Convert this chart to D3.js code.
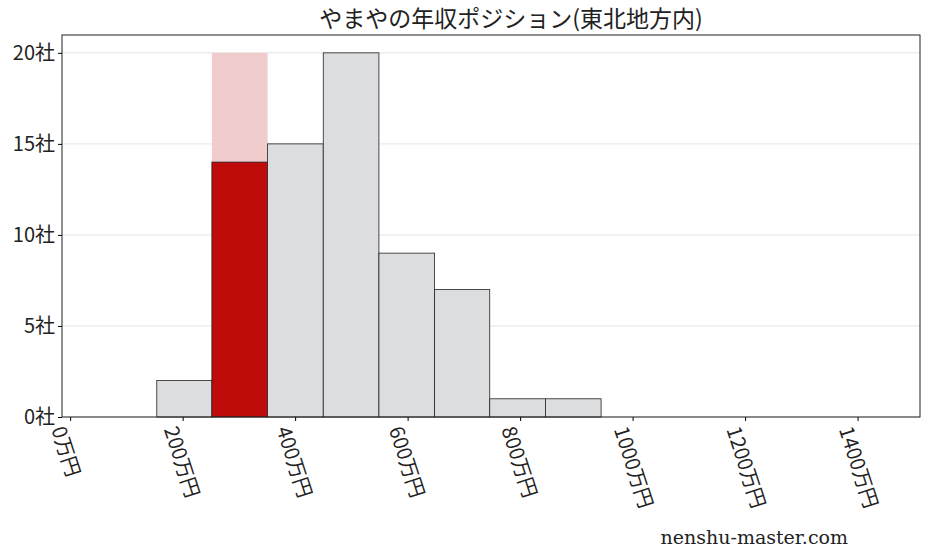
<!DOCTYPE html>
<html><head><meta charset="utf-8">
<script src="https://cdn.jsdelivr.net/npm/d3@7"></script>
<style>body{margin:0;background:#fff}</style>
</head><body><div class="vis"></div>
<script>
// bins (万円) and counts
const binEdges = [154, 252, 351, 450, 549, 648, 746, 845, 944];
const counts = [2, 14, 15, 20, 9, 7, 1, 1];
const highlightIndex = 1;
const highlightMax = 20;
const xTicks = [0, 200, 400, 600, 800, 1000, 1200, 1400];
const yTicks = [0, 5, 10, 15, 20];
const title = "やまやの年収ポジション(東北地方内)";

const font = "'Noto Sans CJK JP', sans-serif";
const margin = {top: 35, right: 8, bottom: 140, left: 62};
const W = 928, H = 557;
const width = W - margin.left - margin.right;
const height = H - margin.top - margin.bottom;

const svg = d3.select(".vis").append("svg").attr("width", W).attr("height", H);
const g = svg.append("g").attr("transform", `translate(${margin.left},${margin.top})`);

const x = d3.scaleLinear().domain([-14.5, 1511]).range([0, width]);
const y = d3.scaleLinear().domain([0, 20.98]).range([height, 0]);

// grid
g.selectAll(".grid").data(yTicks).enter().append("line")
  .attr("x1", 0).attr("x2", width)
  .attr("y1", d => y(d)).attr("y2", d => y(d))
  .attr("stroke", "#ddd").attr("stroke-width", 0.8);

const bins = counts.map((c, i) => ({x0: binEdges[i], x1: binEdges[i + 1], c, i}));

// pink background bar
const hb = bins[highlightIndex];
g.append("rect")
  .attr("x", x(hb.x0)).attr("width", x(hb.x1) - x(hb.x0))
  .attr("y", y(highlightMax)).attr("height", y(0) - y(highlightMax))
  .attr("fill", "#f0cccc");

g.selectAll(".bar").data(bins).enter().append("rect")
  .attr("x", d => x(d.x0)).attr("width", d => x(d.x1) - x(d.x0))
  .attr("y", d => y(d.c)).attr("height", d => y(0) - y(d.c))
  .attr("fill", d => d.i === highlightIndex ? "#c00b0b" : "#dcdddf")
  .attr("stroke", "#222").attr("stroke-width", 0.8);

// frame
g.append("rect").attr("width", width).attr("height", height)
  .attr("fill", "none").attr("stroke", "#222").attr("stroke-width", 1);

// y axis
const ya = g.append("g").call(d3.axisLeft(y).tickValues(yTicks).tickFormat(d => d + "社").tickSize(4));
ya.select(".domain").remove();
ya.selectAll("text").attr("font-family", font).attr("font-size", 20).attr("fill", "#222");

// x axis
const xa = g.append("g").attr("transform", `translate(0,${height})`)
  .call(d3.axisBottom(x).tickValues(xTicks).tickFormat(d => d + "万円").tickSize(4));
xa.select(".domain").remove();
xa.selectAll("text")
  .attr("font-family", font).attr("font-size", 20).attr("fill", "#222")
  .attr("text-anchor", "start").attr("dy", "0.35em")
  .attr("transform", "translate(-6,8) rotate(72)");

svg.append("text").attr("x", margin.left + width / 2 + 20).attr("y", 27)
  .attr("text-anchor", "middle").attr("font-family", font).attr("font-size", 23)
  .attr("fill", "#222").text(title);

svg.append("text").attr("x", 848).attr("y", 544).attr("text-anchor", "end")
  .attr("font-family", "'DejaVu Serif', serif").attr("font-size", 19)
  .attr("fill", "#222").text("nenshu-master.com");
</script></body></html>
